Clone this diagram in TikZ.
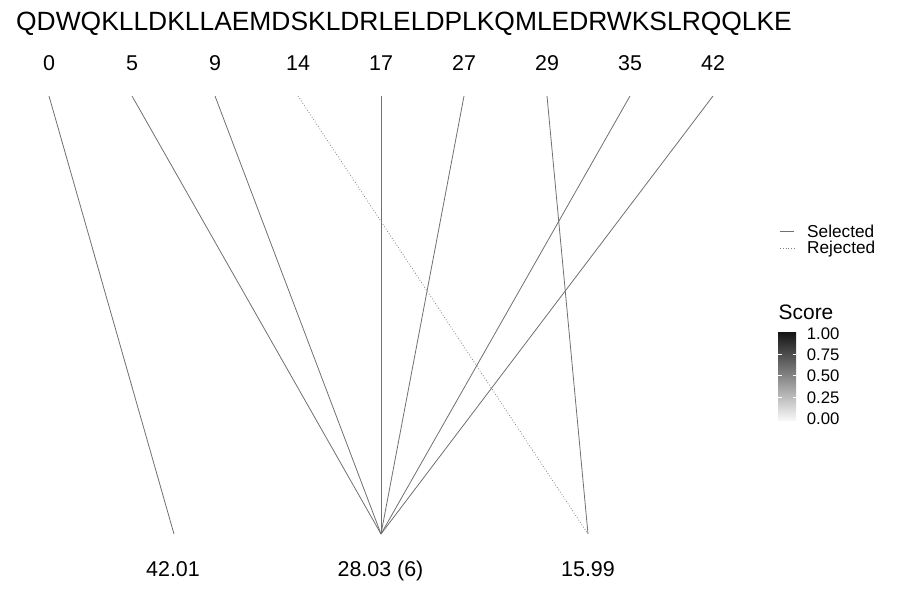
\documentclass[tikz,border=0pt]{standalone}
\usepackage{fontspec}
\setmainfont{Liberation Sans}
\begin{document}
\begin{tikzpicture}[x=1bp,y=-1bp,
  lbl/.style={inner sep=0pt, anchor=base, font=\fontsize{21.5}{21.5}\selectfont},
  sel/.style={draw=black!56, line width=0.8bp},
  rej/.style={draw=black!50, line width=0.8bp, dotted},
  leg/.style={inner sep=0pt, anchor=base west, font=\fontsize{17.3}{17.3}\selectfont},
  tick/.style={inner sep=0pt, anchor=west, font=\fontsize{16.8}{16.8}\selectfont}]
\useasboundingbox (0,0) rectangle (900,600);
\node[inner sep=0pt, anchor=base west, font=\fontsize{26.5}{26.5}\selectfont] (seq) at (16,31) {QDWQKLLDKLLAEMDSKLDRLELDPLKQMLEDRWKSLRQQLKE};
% top labels and anchors
\foreach \n/\x in {0/49,5/132,9/215,14/298,17/381,27/464,29/547,35/630,42/713}{
  \node[lbl] (n\n) at (\x,71) {\n};
  \coordinate (t\n) at (\x,96);
}
% bottom anchors and labels
\coordinate (b1) at (174,534);
\coordinate (b2) at (381,534);
\coordinate (b3) at (588,534);
\node[lbl] (l1) at (173,576) {42.01};
\node[lbl] (l2) at (380.5,576) {28.03 (6)};
\node[lbl] (l3) at (588,576) {15.99};
% connectors
\draw[sel] (t0) -- (b1);
\foreach \n in {5,9,17,27,35,42}{ \draw[sel] (t\n) -- (b2); }
\draw[sel] (t29) -- (b3);
\draw[rej] (t14) -- (b3);
% legend
\coordinate (ls1) at (780,231.5);
\coordinate (le1) at (794,231.5);
\coordinate (ls2) at (780,248);
\coordinate (le2) at (794,248);
\draw[sel] (ls1) -- (le1);
\draw[rej] (ls2) -- (le2);
\node[leg] (selt) at (807,237.5) {Selected};
\node[leg] (rejt) at (807,254) {Rejected};
\node[inner sep=0pt, anchor=base west, font=\fontsize{21}{21}\selectfont] (sc) at (778.5,319) {Score};
\shade[top color=black!92, bottom color=white!97!black] (778,332) rectangle (796,420);
\foreach \v/\y in {0.75/354.3,0.50/375.5,0.25/397.3}{
  \draw[white, line width=0.5bp] (778,\y) -- (781.5,\y);
  \draw[white, line width=0.5bp] (792.5,\y) -- (796,\y);
}
\foreach \v/\y in {1.00/333.3,0.75/354.3,0.50/375.5,0.25/397.3,0.00/419}{
  \node[tick] (c\v) at (806.7,\y) {\v};
}
\end{tikzpicture}
\end{document}
